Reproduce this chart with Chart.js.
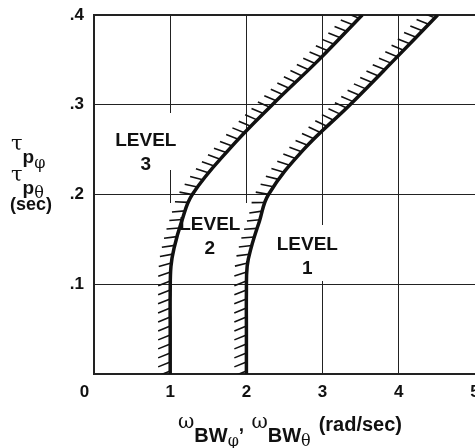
<!DOCTYPE html>
<html>
<head>
<meta charset="utf-8">
<script src="https://cdn.jsdelivr.net/npm/chart.js@4/dist/chart.umd.min.js"></script>
<style>
  body { margin: 0; background: #fff; }
  canvas { display: block; }
</style>
</head>
<body>
<canvas id="bwChart" width="475" height="448"></canvas>
<script>
const tauValues = [0, 0.05, 0.09, 0.12, 0.14, 0.17, 0.2, 0.25, 0.3, 0.35, 0.4];
const level23Bw = [1.0, 1.0, 1.0, 1.01, 1.05, 1.15, 1.29, 1.77, 2.34, 2.95, 3.52];
const level12Bw = [2.0, 2.0, 2.0, 2.01, 2.06, 2.17, 2.29, 2.75, 3.36, 3.94, 4.51];
const xTicks = [0, 1, 2, 3, 4, 5];
const yTicks = ['', '.1', '.2', '.3', '.4'];
const levelLabels = [
    { lines: ['LEVEL', '3'], x: 0.68, y: 0.257, box: [110, 113, 72, 57] },
    { lines: ['LEVEL', '2'], x: 1.52, y: 0.164, box: [168, 203, 82, 58] },
    { lines: ['LEVEL', '1'], x: 2.8, y: 0.142, box: [270, 225, 78, 56] }
];

const INK = '#111';

function toPoints(xs) {
    return tauValues.map((t, i) => ({ x: xs[i], y: t }));
}

// white boxes + level text (drawn over the grid, under the curves)
const levelPlugin = {
    id: 'levels',
    beforeDatasetsDraw(chart) {
        const ctx = chart.ctx;
        const xs = chart.scales.x, ys = chart.scales.y;
        ctx.save();
        levelLabels.forEach(l => {
            ctx.fillStyle = '#fff';
            ctx.fillRect(l.box[0], l.box[1], l.box[2], l.box[3]);
        });
        ctx.fillStyle = INK;
        ctx.font = 'bold 19px "Liberation Sans", Arial, sans-serif';
        ctx.textAlign = 'center';
        ctx.textBaseline = 'alphabetic';
        levelLabels.forEach(l => {
            const px = xs.getPixelForValue(l.x);
            const py = ys.getPixelForValue(l.y);
            ctx.fillText(l.lines[0], px, py + 3);
            ctx.fillText(l.lines[1], px, py + 27);
        });
        ctx.restore();
    }
};

// short slanted hatches on the worse-level side of each boundary
const hatchPlugin = {
    id: 'hatch',
    afterDatasetsDraw(chart) {
        const ctx = chart.ctx, area = chart.chartArea;
        const ang = -112 * Math.PI / 180, ca = Math.cos(ang), sa = Math.sin(ang);
        const LEN = 13, GAP = 9;
        ctx.save();
        ctx.beginPath();
        ctx.rect(area.left, area.top, area.right - area.left, area.bottom - area.top);
        ctx.clip();
        ctx.beginPath();
        chart.data.datasets.forEach((ds, i) => {
            const pts = chart.getDatasetMeta(i).data;
            const path = [];
            for (let k = 0; k < pts.length - 1; k++) {
                const a = pts[k], b = pts[k + 1];
                const c1x = a.cp2x ?? a.x, c1y = a.cp2y ?? a.y;
                const c2x = b.cp1x ?? b.x, c2y = b.cp1y ?? b.y;
                for (let s = 0; s < 20; s++) {
                    const t = s / 20, u = 1 - t;
                    path.push([
                        u*u*u*a.x + 3*u*u*t*c1x + 3*u*t*t*c2x + t*t*t*b.x,
                        u*u*u*a.y + 3*u*u*t*c1y + 3*u*t*t*c2y + t*t*t*b.y
                    ]);
                }
            }
            const last = pts[pts.length - 1];
            path.push([last.x, last.y]);
            let dist = 0, next = 3;
            for (let k = 1; k < path.length; k++) {
                const dx = path[k][0] - path[k-1][0], dy = path[k][1] - path[k-1][1];
                const len = Math.hypot(dx, dy);
                if (!len) continue;
                while (dist + len >= next) {
                    const f = (next - dist) / len;
                    const px = path[k-1][0] + dx * f, py = path[k-1][1] + dy * f;
                    const tx = dx / len, ty = dy / len;
                    const hx = tx * ca - ty * sa, hy = tx * sa + ty * ca;
                    ctx.moveTo(px, py);
                    ctx.lineTo(px + hx * LEN, py + hy * LEN);
                    next += GAP;
                }
                dist += len;
            }
        });
        ctx.strokeStyle = INK;
        ctx.lineWidth = 1.6;
        ctx.stroke();
        ctx.restore();
    }
};

// axis titles with greek letters and subscripts
const titlePlugin = {
    id: 'titles',
    afterDraw(chart) {
        const ctx = chart.ctx;
        const greek = s => s + 'px "DejaVu Serif", "Liberation Serif", serif';
        const bold = s => 'bold ' + s + 'px "Liberation Sans", Arial, sans-serif';
        ctx.save();
        ctx.fillStyle = INK;
        ctx.textAlign = 'left';
        ctx.textBaseline = 'alphabetic';

        function run(parts, x) {
            parts.forEach(p => {
                ctx.font = p[1];
                ctx.fillText(p[0], x, p[2]);
                x += ctx.measureText(p[0]).width + (p[3] || 0);
            });
            return x;
        }

        // y title
        run([['\u03C4', greek(21), 150, 0], ['p', bold(19), 163, 0], ['\u03C6', greek(16), 168]], 11);
        run([['\u03C4', greek(21), 181, 0], ['p', bold(19), 194, 0], ['\u03B8', greek(16), 198]], 11);
        ctx.font = bold(18);
        ctx.textAlign = 'center';
        ctx.fillText('(sec)', 31, 210);
        ctx.textAlign = 'left';

        // x title
        run([
            ['\u03C9', greek(20), 428, 0],
            ['BW', bold(20), 442, 0],
            ['\u03C6', greek(16), 446, 0],
            [', ', bold(19), 431, 2],
            ['\u03C9', greek(20), 428, 0],
            ['BW', bold(20), 442, 0],
            ['\u03B8', greek(16), 446, 8],
            ['(rad/sec)', bold(20), 431]
        ], 178);
        ctx.restore();
    }
};

new Chart(document.getElementById('bwChart'), {
    type: 'line',
    data: {
        datasets: [
            { label: 'Level 2/3', data: toPoints(level23Bw) },
            { label: 'Level 1/2', data: toPoints(level12Bw) }
        ]
    },
    options: {
        responsive: false,
        animation: false,
        indexAxis: 'y',
        layout: { padding: { top: 15, left: 0, right: 0, bottom: 0 } },
        elements: {
            line: { borderColor: INK, borderWidth: 3.5, tension: 0.4, fill: false },
            point: { radius: 0 }
        },
        plugins: { legend: { display: false }, tooltip: { enabled: false } },
        scales: {
            x: {
                type: 'linear',
                min: 0, max: 5,
                afterFit(s) { s.height = 74; s.paddingLeft = 0; s.paddingRight = 0; },
                afterBuildTicks(s) { s.ticks = xTicks.map(v => ({ value: v })); },
                ticks: {
                    padding: 8,
                    color: INK,
                    font: { family: '"Liberation Sans", Arial, sans-serif', size: 17, weight: 'bold' },
                    callback: v => v === 0 ? '0    ' : String(v)
                },
                grid: {
                    drawTicks: false,
                    color: ctx => ctx.tick && ctx.tick.value === 5 ? 'rgba(0,0,0,0)' : '#222',
                    lineWidth: 1
                },
                border: { display: true, color: '#222', width: 2 }
            },
            y: {
                type: 'linear',
                min: 0, max: 0.4,
                afterFit(s) { s.width = 94; s.paddingTop = 0; s.paddingBottom = 0; },
                afterBuildTicks(s) { s.ticks = yTicks.map((t, i) => ({ value: i / 10 })); },
                ticks: {
                    padding: 10,
                    color: INK,
                    font: { family: '"Liberation Sans", Arial, sans-serif', size: 17, weight: 'bold' },
                    callback: (v, i) => yTicks[i]
                },
                grid: {
                    drawTicks: false,
                    color: '#222',
                    lineWidth: ctx => ctx.tick && Math.abs(ctx.tick.value - 0.4) < 1e-6 ? 2 : 1
                },
                border: { display: true, color: '#222', width: 2 }
            }
        }
    },
    plugins: [levelPlugin, hatchPlugin, titlePlugin]
});
</script>
</body>
</html>
